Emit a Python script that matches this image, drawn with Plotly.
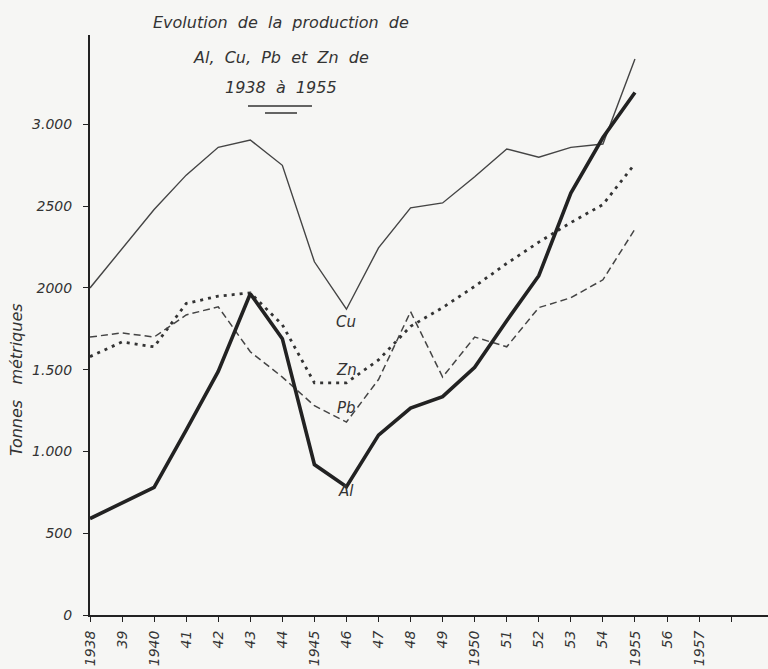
import plotly.graph_objects as go

years = list(range(1938, 1956))
cu = [2000, 2240, 2480, 2690, 2860, 2905, 2750, 2160, 1870, 2245, 2490, 2520, 2680, 2850, 2800, 2860, 2880, 3400]
al = [590, 685, 780, 1130, 1490, 1965, 1690, 920, 785, 1100, 1265, 1335, 1515, 1800, 2075, 2580, 2920, 3195]
zn = [1580, 1670, 1640, 1905, 1950, 1970, 1775, 1420, 1420, 1560, 1765, 1880, 2010, 2150, 2280, 2400, 2510, 2760]
pb = [1700, 1725, 1700, 1835, 1885, 1610, 1455, 1280, 1180, 1440, 1855, 1455, 1700, 1640, 1880, 1940, 2050, 2360]

tick_years = list(range(1938, 1959))
tick_labels = ["1938", "39", "1940", "41", "42", "43", "44", "1945", "46", "47", "48", "49",
               "1950", "51", "52", "53", "54", "1955", "56", "1957", ""]
y_ticks = [0, 500, 1000, 1500, 2000, 2500, 3000]
y_labels = ["0", "500", "1.000", "1.500", "2000", "2500", "3.000"]

title_lines = ["Evolution  de  la  production  de", "Al,  Cu,  Pb  et  Zn  de", "1938  à  1955"]
series_labels = [("Cu", 1946, 1790), ("Zn", 1946, 1500), ("Pb", 1946, 1265), ("Al", 1946, 760)]

FONT = "DejaVu Sans"
INK = "#333333"

fig = go.Figure()
fig.add_trace(go.Scatter(x=years, y=cu, mode="lines", line=dict(color="#444444", width=1.4), name="Cu"))
fig.add_trace(go.Scatter(x=years, y=zn, mode="lines", line=dict(color="#333333", width=2.8, dash="3px,5px"), name="Zn"))
fig.add_trace(go.Scatter(x=years, y=pb, mode="lines", line=dict(color="#444444", width=1.5, dash="7px,4px"), name="Pb"))
fig.add_trace(go.Scatter(x=years, y=al, mode="lines", line=dict(color="#222222", width=3.6), name="Al"))

annotations = []
title_y = [1.0224, 0.962, 0.910]
for txt, yy in zip(title_lines, title_y):
    annotations.append(dict(text=txt, xref="paper", yref="paper", x=0.2817, y=yy, showarrow=False,
                            xanchor="center", yanchor="middle",
                            font=dict(family=FONT, size=16, color=INK, style="italic")))
for txt, xx, yy in series_labels:
    annotations.append(dict(text=txt, x=xx, y=yy, showarrow=False, xanchor="center", yanchor="middle",
                            font=dict(family=FONT, size=15, color=INK, style="italic")))
annotations.append(dict(text="Tonnes   métriques", xref="paper", yref="paper", x=-0.1077, y=0.407,
                        showarrow=False, textangle=-90, xanchor="center", yanchor="middle",
                        font=dict(family=FONT, size=16, color=INK, style="italic")))

shapes = [
    dict(type="line", xref="paper", yref="paper", x0=0.233, x1=0.3274, y0=0.8776, y1=0.8776,
         line=dict(color=INK, width=1.3)),
    dict(type="line", xref="paper", yref="paper", x0=0.2581, x1=0.3053, y0=0.8655, y1=0.8655,
         line=dict(color=INK, width=1.3)),
]

fig.update_layout(
    width=768, height=669,
    margin=dict(l=90, r=0, t=35, b=54),
    paper_bgcolor="#f6f6f4", plot_bgcolor="#f6f6f4",
    showlegend=False,
    annotations=annotations,
    shapes=shapes,
    xaxis=dict(range=[1938, 1959.15], tickvals=tick_years, ticktext=tick_labels, tickangle=-90,
               showgrid=False, zeroline=False, showline=True, linecolor="#222222", linewidth=2,
               ticks="outside", ticklen=5, tickwidth=1.2, tickcolor="#222222", ticklabelstandoff=3,
               tickfont=dict(family=FONT, size=14, color=INK, style="italic")),
    yaxis=dict(range=[0, 3547], tickvals=y_ticks, ticktext=y_labels,
               showgrid=False, zeroline=False, showline=True, linecolor="#222222", linewidth=2,
               ticks="outside", ticklen=5, tickwidth=1.2, tickcolor="#222222", ticklabelstandoff=8,
               tickfont=dict(family=FONT, size=14, color=INK, style="italic")),
)

fig.write_html("out.html", config={"displayModeBar": False},
               post_script="document.body.style.margin='0';document.body.style.background='#f6f6f4';")
